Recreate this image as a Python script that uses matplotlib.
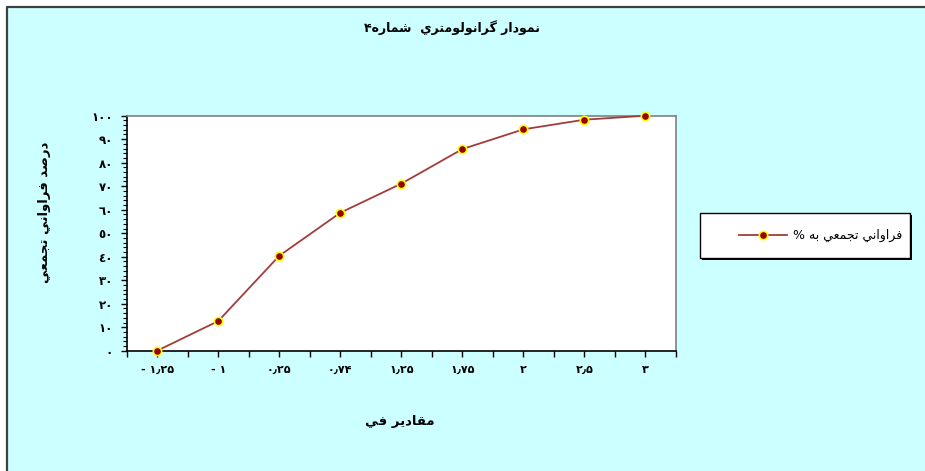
import matplotlib
matplotlib.use('Agg')
from matplotlib import pyplot as plt
from matplotlib.patches import Rectangle
from matplotlib.lines import Line2D
from matplotlib.ticker import MultipleLocator, FixedLocator
import numpy as np

# data
phi_labels = ['- ۱٫۲۵', '- ۱', '۰٫۲۵', '۰٫۷۴', '۱٫۲۵', '۱٫۷۵', '۲', '۲٫۵', '۳']
cum_percent = [0, 12.6, 40.4, 58.7, 71.1, 85.8, 94.2, 98.3, 100]
y_ticks = [0, 10, 20, 30, 40, 50, 60, 70, 80, 90, 100]
y_tick_labels = ['٠', '١٠', '٢٠', '٣٠', '٤٠', '٥٠', '٦٠', '٧٠', '٨٠', '٩٠', '١٠٠']

title = 'نمودار گرانولومتري  شماره۴'
x_title = 'مقادير في'
y_title = 'درصد فراواني تجمعي'
series_name = 'فراواني تجمعي به %'

# isolated, final, initial, medial presentation forms
FORMS = {
    'ا': ('\uFE8D', '\uFE8E', None, None),
    'ب': ('\uFE8F', '\uFE90', '\uFE91', '\uFE92'),
    'ت': ('\uFE95', '\uFE96', '\uFE97', '\uFE98'),
    'ج': ('\uFE9D', '\uFE9E', '\uFE9F', '\uFEA0'),
    'د': ('\uFEA9', '\uFEAA', None, None),
    'ر': ('\uFEAD', '\uFEAE', None, None),
    'ش': ('\uFEB5', '\uFEB6', '\uFEB7', '\uFEB8'),
    'ص': ('\uFEB9', '\uFEBA', '\uFEBB', '\uFEBC'),
    'ع': ('\uFEC9', '\uFECA', '\uFECB', '\uFECC'),
    'ف': ('\uFED1', '\uFED2', '\uFED3', '\uFED4'),
    'ق': ('\uFED5', '\uFED6', '\uFED7', '\uFED8'),
    'ل': ('\uFEDD', '\uFEDE', '\uFEDF', '\uFEE0'),
    'م': ('\uFEE1', '\uFEE2', '\uFEE3', '\uFEE4'),
    'ن': ('\uFEE5', '\uFEE6', '\uFEE7', '\uFEE8'),
    'ه': ('\uFEE9', '\uFEEA', '\uFEEB', '\uFEEC'),
    'و': ('\uFEED', '\uFEEE', None, None),
    'ي': ('\uFEF1', '\uFEF2', '\uFEF3', '\uFEF4'),
    'گ': ('\uFB92', '\uFB93', '\uFB94', '\uFB95'),
}


def shape(text):
    """Very small Arabic shaper: pick joining forms, then reverse for RTL display."""
    out = []
    n = len(text)
    for i, ch in enumerate(text):
        f = FORMS.get(ch)
        if f is None:
            out.append(ch)
            continue
        prev = text[i - 1] if i > 0 else ''
        nxt = text[i + 1] if i < n - 1 else ''
        join_prev = prev in FORMS and FORMS[prev][2] is not None
        join_next = nxt in FORMS and f[2] is not None
        if join_prev and join_next:
            out.append(f[3])
        elif join_prev:
            out.append(f[1])
        elif join_next:
            out.append(f[2])
        else:
            out.append(f[0])
    return ''.join(reversed(out))


plt.rcParams['font.family'] = ['DejaVu Sans']

W, H = 925, 471
fig = plt.figure(figsize=(W / 100, H / 100), dpi=100)
fig.patch.set_facecolor('white')


def px_rect(x0, y0, x1, y1, **kw):
    # rectangle given in pixel coords measured from the top-left corner
    return Rectangle((x0 / W, 1 - y1 / H), (x1 - x0) / W, (y1 - y0) / H,
                     transform=fig.transFigure, **kw)


# chart area background, with a dark border on top and left only
fig.patches.append(px_rect(7, 7, W + 5, H + 5, facecolor='#CCFFFF', edgecolor='none', zorder=-10))
fig.add_artist(Line2D([7 / W, 7 / W, 1.0], [0.0, 1 - 7 / H, 1 - 7 / H], transform=fig.transFigure,
                      color='#404040', linewidth=1.6, zorder=-9))

ax = fig.add_axes([126.7 / W, 1 - 350.7 / H, (676 - 126.7) / W, (350.7 - 115.7) / H])
ax.set_facecolor('white')

x = np.arange(len(cum_percent))
line, = ax.plot(x, cum_percent, color='#A33B3B', linewidth=1.3, marker='o', markersize=6,
                markerfacecolor='#990000', markeredgecolor='#FFFF00', markeredgewidth=1.2,
                clip_on=False, zorder=5)

ax.set_xlim(-0.5, len(cum_percent) - 0.5)
ax.set_ylim(0, 100)

ax.xaxis.set_major_locator(FixedLocator(x))
ax.set_xticklabels(phi_labels, fontsize=8, fontweight='bold')
ax.xaxis.set_minor_locator(FixedLocator(np.arange(-0.5, len(cum_percent), 1)))
ax.tick_params(axis='x', which='both', direction='out', length=4, width=1, pad=6)

ax.yaxis.set_major_locator(FixedLocator(y_ticks))
ax.set_yticklabels(y_tick_labels, fontsize=8.5, fontweight='bold')
ax.yaxis.set_minor_locator(MultipleLocator(2))
ax.tick_params(axis='y', which='major', direction='out', length=4, width=1, pad=6)
ax.tick_params(axis='y', which='minor', direction='out', length=3, width=0.8)

for side in ['top', 'right']:
    ax.spines[side].set_color('#808080')
    ax.spines[side].set_linewidth(1.2)
for side in ['left', 'bottom']:
    ax.spines[side].set_color('black')
    ax.spines[side].set_linewidth(1.2)

fig.text(452 / W, 1 - 28 / H, shape(title), ha='center', va='center',
         fontsize=9, fontweight='bold')
fig.text(45 / W, 1 - 212 / H, shape(y_title), ha='center', va='center',
         rotation=90, fontsize=9.5, fontweight='bold')
fig.text(400 / W, 1 - 421 / H, shape(x_title), ha='center', va='center',
         fontsize=9.5, fontweight='bold')

# legend box drawn by hand (content sits to the right as in the reference)
fig.patches.append(px_rect(702, 215, 912, 260, facecolor='black', edgecolor='none', zorder=1))
fig.patches.append(px_rect(700, 213, 910, 258, facecolor='white', edgecolor='black',
                           linewidth=1, zorder=2))
leg = fig.legend([line], [shape(series_name)], loc='center right',
                 bbox_to_anchor=(902 / W, 1 - 235.5 / H), frameon=False,
                 handlelength=3.8, handletextpad=0.5, borderpad=0, borderaxespad=0,
                 prop={'size': 9})
leg.set_zorder(3)

fig.savefig('out.png', dpi=100)
